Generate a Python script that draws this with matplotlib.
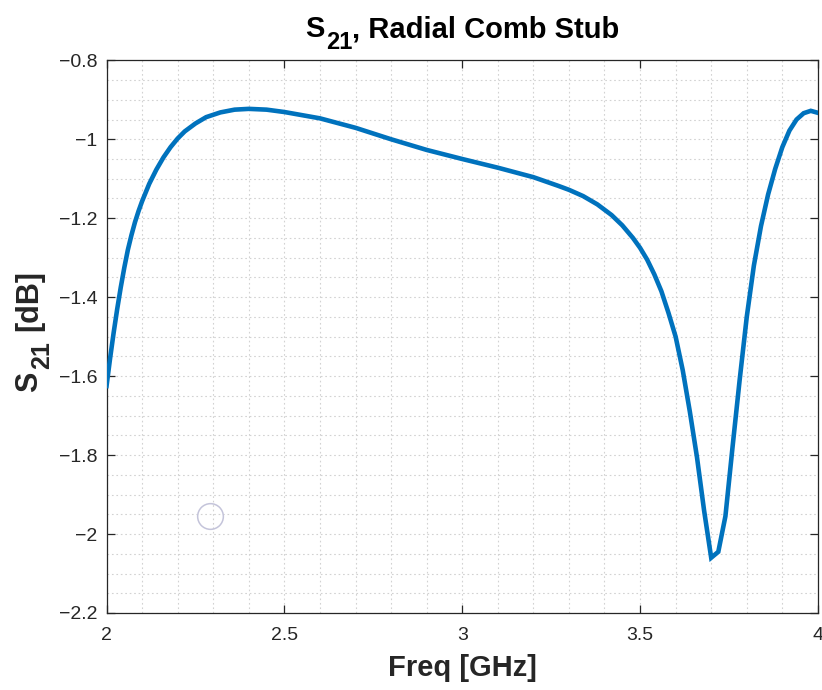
import matplotlib
matplotlib.use("Agg")
import matplotlib.pyplot as plt
from matplotlib.ticker import MultipleLocator

plt.rcParams['font.family'] = ['Liberation Sans', 'DejaVu Sans']

# Data
freq_ghz = [2.00, 2.01, 2.02, 2.03, 2.04, 2.05, 2.06, 2.07, 2.08, 2.09, 2.10,
            2.12, 2.14, 2.16, 2.18, 2.20, 2.22, 2.25, 2.28, 2.32, 2.36, 2.40,
            2.45, 2.50, 2.60, 2.70, 2.80, 2.90, 3.00, 3.10, 3.20, 3.27, 3.30,
            3.34, 3.38, 3.42, 3.45, 3.48, 3.50, 3.52, 3.54, 3.56, 3.58, 3.60,
            3.62, 3.64, 3.66, 3.68, 3.70, 3.72, 3.74, 3.76, 3.78, 3.80, 3.82,
            3.84, 3.86, 3.88, 3.90, 3.92, 3.94, 3.96, 3.98, 4.00]
s21_db = [-1.625, -1.555, -1.49, -1.43, -1.375, -1.325, -1.28, -1.243, -1.21,
          -1.182, -1.157, -1.113, -1.077, -1.046, -1.020, -0.998, -0.980, -0.960,
          -0.944, -0.932, -0.925, -0.923, -0.925, -0.931, -0.947, -0.971, -1.000,
          -1.027, -1.050, -1.072, -1.096, -1.118, -1.128, -1.144, -1.165, -1.192,
          -1.218, -1.250, -1.275, -1.305, -1.342, -1.385, -1.44, -1.50, -1.585,
          -1.69, -1.805, -1.94, -2.06, -2.045, -1.955, -1.78, -1.61, -1.45,
          -1.32, -1.22, -1.14, -1.075, -1.02, -0.978, -0.95, -0.934, -0.928,
          -0.933]
marker_x = [2.29]
marker_y = [-1.955]

x_ticks = [2, 2.5, 3, 3.5, 4]
x_tick_labels = ['2', '2.5', '3', '3.5', '4']
y_ticks = [-2.2, -2.0, -1.8, -1.6, -1.4, -1.2, -1.0, -0.8]
y_tick_labels = ['-2.2', '-2', '-1.8', '-1.6', '-1.4', '-1.2', '-1', '-0.8']

title_parts = ['S', '21', ', Radial Comb Stub']
ylabel_parts = ['S', '21', '[dB]']
xlabel_text = 'Freq [GHz]'

W, H = 822, 690
fig = plt.figure(figsize=(W / 100, H / 100), dpi=100)
ax = fig.add_axes([0.1296, 0.1116, 0.8654, 0.801])

ax.plot(freq_ghz, s21_db, color='#0072BD', lw=3.3, solid_joinstyle='miter', zorder=3)
ax.plot(marker_x, marker_y, 'o', ms=18.5, mfc='none', mec='#c4c4da', mew=1.1, zorder=2)

ax.set_xlim(2, 4)
ax.set_ylim(-2.2, -0.8)
ax.set_xticks(x_ticks)
ax.set_xticklabels([t.replace('-', '\u2212') for t in x_tick_labels])
ax.set_yticks(y_ticks)
ax.set_yticklabels([t.replace('-', '\u2212') for t in y_tick_labels])
ax.xaxis.set_minor_locator(MultipleLocator(0.1))
ax.yaxis.set_minor_locator(MultipleLocator(0.05))

ax.grid(True, which='both', linestyle=(0, (1.5, 2.5)), color='#d2d2d2', lw=0.8)
ax.set_axisbelow(True)

ax.tick_params(which='major', direction='in', length=6, width=0.9, color='#262626',
               top=True, right=True, labelsize=14, labelcolor='#262626')
ax.tick_params(axis='x', which='major', pad=10)
ax.tick_params(axis='y', which='major', pad=6.5)
ax.tick_params(which='minor', length=0, top=True, right=True)
for sp in ax.spines.values():
    sp.set_color('#262626')
    sp.set_linewidth(0.9)

ax.set_xlabel(xlabel_text, fontsize=21, fontweight='bold', color='#262626', labelpad=7)

# Rich text with MATLAB-like large, deep subscript
renderer = fig.canvas.get_renderer()


def measure(s, fs):
    t = fig.text(0, 0, s, fontsize=fs, fontweight='bold')
    w = t.get_window_extent(renderer).width
    t.remove()
    return w


MAIN_FS, SUB_FS, DROP = 21, 17, 12
gap_sub = 2
space = 7

# Title (horizontal), centred over the axes
tw = [measure(title_parts[0], MAIN_FS), measure(title_parts[1], SUB_FS),
      measure(title_parts[2], MAIN_FS)]
total = tw[0] + gap_sub + tw[1] + tw[2]
ax_bb = ax.get_position()
cx = (ax_bb.x0 + ax_bb.x1) / 2 * W
x = cx - total / 2
base_y = H - 37
fig.text(x / W, base_y / H, title_parts[0], fontsize=MAIN_FS, fontweight='bold',
         ha='left', va='baseline', color='black')
x += tw[0] + gap_sub
fig.text(x / W, (base_y - DROP) / H, title_parts[1], fontsize=SUB_FS, fontweight='bold',
         ha='left', va='baseline', color='black')
x += tw[1]
fig.text(x / W, base_y / H, title_parts[2], fontsize=MAIN_FS, fontweight='bold',
         ha='left', va='baseline', color='black')

# Y label (rotated 90 degrees), reading bottom to top
YL_FS, YL_SUB = 22, 18
yw = [measure(ylabel_parts[0], YL_FS), measure(ylabel_parts[1], YL_SUB),
      measure(ylabel_parts[2], YL_FS)]
y = H - 392
base_x = 37
kw = dict(fontweight='bold', ha='left', va='baseline', rotation=90,
          rotation_mode='anchor', color='#262626')
fig.text(base_x / W, y / H, ylabel_parts[0], fontsize=YL_FS, **kw)
y += yw[0] + 3
fig.text((base_x + DROP) / W, y / H, ylabel_parts[1], fontsize=YL_SUB, **kw)
y += yw[1] + 10
fig.text(base_x / W, y / H, ylabel_parts[2], fontsize=YL_FS, **kw)

fig.savefig('out.png', dpi=100)
